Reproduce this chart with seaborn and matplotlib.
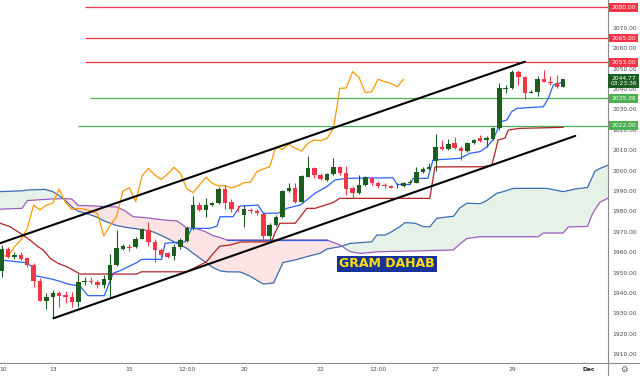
import numpy as np
import pandas as pd
import matplotlib
matplotlib.use("Agg")
import matplotlib.pyplot as plt
import seaborn as sns
from matplotlib.lines import Line2D

# ---- 4h candles (bar 0 = first bar on screen) ----
opens = [1950.6, 1961.6, 1957.8, 1958.6, 1957.3, 1953.6, 1946.0, 1936.2, 1938.2, 1940.1,
         1939.0, 1938.2, 1935.7, 1945.5, 1946.0, 1945.2, 1943.9, 1946.4, 1953.7, 1961.7,
         1962.5, 1962.4, 1966.6, 1970.9, 1965.1, 1961.1, 1959.4, 1958.1, 1962.7, 1965.6,
         1971.7, 1983.1, 1980.7, 1983.1, 1984.0, 1991.0, 1984.5, 1981.9, 1978.1, 1980.5,
         1980.2, 1978.7, 1967.9, 1973.3, 1977.4, 1990.0, 1991.6, 1984.8, 1997.0, 2001.1,
         1997.8, 1995.4, 1998.3, 2001.6, 1998.7, 1991.6, 1989.2, 1992.9, 1996.2, 1994.1,
         1992.9, 1992.5, 1992.3, 1992.5, 1993.8, 1994.1, 1999.5, 2000.8, 2004.9, 2011.7,
         2010.4, 2013.4, 2010.9, 2009.6, 2013.4, 2015.8, 2015.0, 2015.3, 2020.7, 2040.0,
         2040.3, 2048.5, 2045.7, 2038.2, 2038.7, 2044.8, 2043.6, 2043.1, 2041.1]
highs = [1963.5, 1962.4, 1960.2, 1960.0, 1957.8, 1954.6, 1947.2, 1940.0, 1941.5, 1941.0,
         1941.0, 1940.6, 1949.1, 1948.0, 1948.0, 1946.3, 1948.8, 1959.1, 1970.9, 1964.0,
         1963.9, 1967.6, 1971.7, 1975.0, 1966.3, 1962.1, 1960.0, 1964.0, 1966.8, 1972.8,
         1987.5, 1984.8, 1986.4, 1984.8, 1992.1, 1992.9, 1986.0, 1983.1, 1983.1, 1981.7,
         1981.2, 1979.9, 1974.2, 1978.2, 1990.5, 1993.8, 1993.8, 1997.8, 2007.2, 2001.9,
         1998.7, 1999.0, 2006.0, 2002.3, 2002.3, 1992.5, 1997.8, 1997.4, 1997.0, 1994.9,
         1994.1, 1992.9, 1993.8, 1994.6, 1995.4, 2001.9, 2001.6, 2003.6, 2017.9, 2015.0,
         2015.3, 2016.3, 2012.1, 2014.2, 2015.5, 2017.5, 2017.0, 2021.4, 2042.8, 2042.0,
         2049.3, 2049.3, 2046.4, 2039.5, 2046.4, 2049.3, 2046.4, 2046.9, 2044.9]
lows = [1948.0, 1957.2, 1956.7, 1956.2, 1952.9, 1942.7, 1936.0, 1932.2, 1927.6, 1933.0,
        1935.0, 1933.3, 1933.1, 1943.9, 1944.4, 1942.6, 1942.6, 1938.2, 1953.2, 1961.1,
        1960.7, 1961.9, 1966.3, 1963.0, 1955.3, 1957.8, 1957.0, 1956.2, 1961.4, 1965.1,
        1970.9, 1980.3, 1977.4, 1982.6, 1983.6, 1981.0, 1979.9, 1979.5, 1972.5, 1979.2,
        1978.2, 1966.0, 1966.0, 1972.8, 1976.8, 1989.7, 1984.3, 1984.6, 1996.9, 1996.2,
        1995.4, 1995.0, 1998.0, 1997.8, 1988.0, 1986.4, 1988.4, 1992.5, 1992.9, 1991.5,
        1991.3, 1991.3, 1991.3, 1992.0, 1993.4, 1993.8, 1999.0, 2000.3, 1999.9, 2010.3,
        2010.1, 2010.6, 2005.2, 2009.0, 2013.0, 2014.2, 2011.7, 2015.0, 2019.9, 2037.9,
        2040.2, 2042.0, 2035.0, 2037.8, 2036.6, 2043.4, 2042.0, 2040.7, 2041.0]
closes = [1961.6, 1957.8, 1958.5, 1956.7, 1953.7, 1946.0, 1936.2, 1938.2, 1939.9, 1938.7,
          1938.2, 1935.7, 1945.2, 1945.9, 1945.5, 1943.9, 1947.0, 1953.7, 1961.9, 1963.0,
          1962.2, 1966.6, 1971.2, 1965.1, 1961.1, 1958.6, 1957.8, 1962.7, 1966.0, 1971.7,
          1983.1, 1980.7, 1983.1, 1984.0, 1991.0, 1984.3, 1981.0, 1981.5, 1981.0, 1980.2,
          1979.1, 1967.9, 1973.3, 1977.4, 1990.0, 1991.6, 1984.8, 1997.4, 2001.1, 1997.8,
          1995.7, 1998.3, 2001.6, 1998.7, 1991.1, 1989.2, 1992.9, 1996.7, 1993.8, 1992.5,
          1992.6, 1991.6, 1992.6, 1994.1, 1994.4, 1999.5, 2000.8, 2001.9, 2011.7, 2010.4,
          2013.0, 2010.9, 2009.6, 2013.4, 2015.0, 2014.7, 2015.8, 2020.7, 2040.3, 2040.5,
          2048.5, 2045.7, 2038.2, 2038.7, 2044.8, 2043.6, 2042.8, 2041.1, 2044.8]

# ---- ichimoku lines (bar index, price) ----
tenkan_x = [-0.27, 3.65, 4.7, 5.22, 8.04, 9.45, 10.39, 12.27, 13.53, 16.08, 17.45, 18.54,
            21.16, 21.94, 25.08, 25.6, 28.73, 29.78, 32.65, 33.75, 34.22, 36.25, 37.35,
            40.17, 41.0, 43.31, 44.67, 46.76, 47.81, 49.1, 50.94, 52.24, 54.08, 61.33,
            61.96, 64.0, 64.5, 66.8, 67.6, 71.83, 73.4, 74.97, 76.07, 77.0, 77.79, 78.37,
            79.15, 79.94, 80.72, 84.89, 85.67, 86.46, 88.0]
tenkan_y = [1956.2, 1954.9, 1953.2, 1948.5, 1946.7, 1945.4, 1944.4, 1943.4, 1938.7, 1938.7,
            1949.7, 1950.9, 1954.9, 1956.5, 1956.5, 1964.4, 1965.1, 1971.7, 1971.7, 1972.8,
            1977.4, 1977.4, 1982.6, 1983.1, 1979.1, 1979.1, 1981.5, 1983.1, 1985.6, 1988.9,
            1992.1, 1995.4, 1996.2, 1996.5, 1993.2, 1993.2, 1996.2, 1996.2, 2005.2, 2006.0,
            2008.5, 2009.3, 2011.7, 2015.0, 2020.7, 2024.0, 2024.8, 2028.9, 2030.5, 2031.3,
            2035.4, 2042.0, 2043.4]
kijun_x = [-0.27, 1.3, 2.9, 4.4, 5.7, 6.5, 7.6, 8.8, 10.2, 12.3, 21.2, 21.9, 29.0, 32.1,
           33.2, 34.2, 35.8, 37.4, 42.3, 42.8, 43.6, 46.0, 46.8, 47.8, 49.1, 49.9, 51.9,
           53.0, 67.1, 67.9, 75.4, 76.8, 77.3, 77.8, 78.9, 79.4, 81.2, 88.0]
kijun_y = [1974.2, 1972.5, 1969.3, 1966.0, 1962.7, 1961.1, 1957.0, 1954.6, 1952.9, 1949.3,
           1949.3, 1950.4, 1950.4, 1955.3, 1959.6, 1963.0, 1963.5, 1965.0, 1965.1, 1969.3,
           1974.2, 1974.2, 1977.4, 1981.5, 1981.5, 1982.3, 1984.3, 1986.4, 1986.4, 2001.8,
           2001.9, 2002.7, 2008.5, 2015.0, 2016.0, 2019.9, 2020.7, 2021.2]
lag_shift = 25

cloud_x = [-0.3, 3.2, 4.0, 6.8, 8.0, 8.9, 9.9, 11.0, 12.0, 13.3, 14.9, 16.0, 18.0, 19.3,
           20.6, 22.3, 23.8, 25.5, 27.5, 29.0, 30.6, 31.9, 33.0, 34.2, 35.3, 37.4, 38.9,
           41.0, 42.6, 44.1, 46.0, 47.8, 49.9, 51.0, 53.0, 54.6, 56.2, 58.0, 58.8, 60.1,
           61.1, 62.4, 63.2, 64.8, 66.1, 67.1, 68.2, 69.8, 70.8, 71.8, 72.9, 75.0, 76.0,
           77.6, 78.6, 80.2, 84.1, 84.9, 85.4, 88.0, 88.8, 90.1, 91.8, 92.5, 93.0, 93.8, 95.1]
span_a = [1989.7, 1990.1, 1990.5, 1990.8, 1989.7, 1988.0, 1985.6, 1982.2, 1980.1, 1979.0,
          1977.2, 1975.4, 1973.1, 1972.3, 1971.7, 1970.9, 1969.9, 1967.5, 1964.3, 1961.9,
          1958.1, 1955.2, 1952.7, 1950.9, 1950.4, 1950.3, 1948.3, 1944.4, 1944.9, 1955.0,
          1956.2, 1957.8, 1959.5, 1961.6, 1962.7, 1964.3, 1964.7, 1965.1, 1968.4, 1968.4,
          1970.0, 1972.5, 1974.5, 1974.2, 1972.5, 1972.5, 1976.6, 1977.3, 1977.6, 1981.7,
          1984.0, 1983.8, 1985.3, 1988.9, 1989.7, 1991.3, 1991.3, 1991.3, 1991.3, 1989.7,
          1990.2, 1991.1, 1991.7, 1996.4, 1999.8, 2001.1, 2002.7]
span_b = [1981.1, 1981.5, 1985.3, 1985.9, 1986.1, 1986.2, 1986.3, 1986.0, 1982.9, 1982.8,
          1982.6, 1982.4, 1982.2, 1980.3, 1977.4, 1977.0, 1976.4, 1975.8, 1975.3, 1971.9,
          1971.5, 1970.1, 1968.3, 1967.2, 1966.0, 1966.0, 1966.0, 1966.0, 1966.0, 1966.0,
          1966.0, 1966.0, 1966.0, 1966.0, 1963.5, 1960.3, 1959.4, 1959.9, 1960.2, 1960.3,
          1960.4, 1960.4, 1960.5, 1960.6, 1960.7, 1960.8, 1960.9, 1961.0, 1961.1, 1964.0,
          1966.7, 1967.6, 1967.6, 1967.6, 1967.6, 1967.6, 1967.6, 1969.4, 1969.4, 1969.4,
          1972.4, 1972.5, 1972.6, 1978.1, 1981.0, 1984.6, 1986.6]

# ---- drawn objects ----
channel_top_x = [-0.27, 82.0]
channel_top_y = [1964.4, 2053.4]
channel_bot_x = [8.1, 89.9]
channel_bot_y = [1927.6, 2017.0]

level_prices = [2080.00, 2065.00, 2053.00, 2035.36, 2022.00]
level_start = [13.1, 13.1, 13.1, 13.8, 12.0]
level_kind = ['r', 'r', 'r', 'g', 'g']
last_price = 2044.77
countdown = '03:23:36'

tick_pos = [0.15, 8, 20, 29, 38, 50, 59, 68, 80, 92]
tick_text = ['10', '13', '15', '12:00', '20', '22', '12:00', '27', '29', 'Dec']
price_ticks = list(range(1910, 2071, 10))

GREEN = '#1b5e20'
RED = '#f23645'
LVL_GREEN = '#4caf50'

sns.set_theme(style='white')
plt.rcParams['font.family'] = ['DejaVu Sans']

fig = plt.figure(figsize=(6.4, 3.76), dpi=100)
ax = fig.add_axes([0, 13 / 376, 608 / 640, 363 / 376])
x_left, x_right = -0.27, 95.03
ax.set_xlim(x_left, x_right)
ax.set_ylim(1905.69, 2083.63)

df = pd.DataFrame({'o': opens, 'h': highs, 'l': lows, 'c': closes})
df['i'] = np.arange(len(df))
up = df.c >= df.o
cols = np.where(up, GREEN, RED)

# cloud
cloud = pd.DataFrame({'x': cloud_x, 'a': span_a, 'b': span_b})
ax.fill_between(cloud.x, cloud.a, cloud.b, where=cloud.a >= cloud.b, interpolate=True,
                color='#e6f2e7', lw=0, zorder=1)
ax.fill_between(cloud.x, cloud.a, cloud.b, where=cloud.a < cloud.b, interpolate=True,
                color='#fce4e4', lw=0, zorder=1)
sns.lineplot(data=cloud, x='x', y='a', ax=ax, color='#3b6db3', lw=0.9,
             estimator=None, sort=False, zorder=2)
sns.lineplot(data=cloud, x='x', y='b', ax=ax, color='#9c5cc0', lw=0.9,
             estimator=None, sort=False, zorder=2)
flat = cloud[(cloud.x >= 35.3) & (cloud.x <= 51.0)]
sns.lineplot(data=flat, x='x', y='b', ax=ax, color='#3060d8', lw=0.9,
             estimator=None, sort=False, zorder=2)

# levels
for p, s, k in zip(level_prices, level_start, level_kind):
    ax.hlines(p, s, x_right, color=RED if k == 'r' else LVL_GREEN, lw=0.9, zorder=2)

# lagging span, tenkan, kijun
sns.lineplot(x=df.i[:len(df) - lag_shift], y=df.c[lag_shift:].values, ax=ax,
             color='#ff9800', lw=0.9, estimator=None, sort=False, zorder=2)
sns.lineplot(x=tenkan_x, y=tenkan_y, ax=ax, color='#2962ff', lw=0.9,
             estimator=None, sort=False, zorder=2)
sns.lineplot(x=kijun_x, y=kijun_y, ax=ax, color='#b22222', lw=0.9,
             estimator=None, sort=False, zorder=2)

# candles
ax.vlines(df.i, df.l, df.h, colors=cols, lw=0.8, zorder=3)
body = (df.c - df.o).abs()
h = np.maximum(body, 0.4)
bottom = np.minimum(df.o, df.c) - (h - body) / 2
ax.bar(df.i, h, bottom=bottom, width=0.7, color=cols, lw=0, zorder=4)

# channel
sns.lineplot(x=channel_top_x, y=channel_top_y, ax=ax, color='black', lw=1.5,
             estimator=None, sort=False, zorder=5)
sns.lineplot(x=channel_bot_x, y=channel_bot_y, ax=ax, color='black', lw=1.5,
             estimator=None, sort=False, zorder=5)

ax.text(0.6365, 0.273, 'GRAM DAHAB', transform=ax.transAxes, fontsize=9, weight='bold',
        color='#ffe100', ha='center', va='center', zorder=6,
        bbox=dict(boxstyle='square,pad=0.15', fc='#1a3399', ec='none'))

# axes styling
ax.set_xlabel('')
ax.set_ylabel('')
ax.yaxis.tick_right()
ax.set_yticks(price_ticks)
ax.set_yticklabels([f'{v:.2f}' for v in price_ticks])
ax.set_xticks(tick_pos)
ax.set_xticklabels(tick_text)
ax.tick_params(axis='y', length=0, pad=3, labelsize=4.3, labelcolor='#4a4a4a')
ax.tick_params(axis='x', length=0, pad=3, labelsize=4.3, labelcolor='#4a4a4a')
ax.get_xticklabels()[-1].set_fontweight('bold')
ax.get_xticklabels()[-1].set_color('#222222')
for s in ['top', 'left']:
    ax.spines[s].set_visible(False)
for s in ['right', 'bottom']:
    ax.spines[s].set_color('#8a8a8a')
    ax.spines[s].set_linewidth(0.8)
ax.grid(False)

fig.add_artist(Line2D([608 / 640, 1], [13 / 376, 13 / 376], transform=fig.transFigure,
                      color='#8a8a8a', lw=0.8))
fig.add_artist(Line2D([608 / 640, 608 / 640], [0, 13 / 376], transform=fig.transFigure,
                      color='#8a8a8a', lw=0.8))
fig.text(624 / 640, 7 / 376, '\u2699', ha='center', va='center', fontsize=6, color='#555555')

# price labels on the scale
ytr = ax.get_yaxis_transform()
for p, k in zip(level_prices, level_kind):
    ax.text(1.0255, p, f'{p:.2f}', transform=ytr, ha='center', va='center', fontsize=4.3,
            color='white', clip_on=False, zorder=10,
            bbox=dict(boxstyle='square,pad=0.3', fc=RED if k == 'r' else LVL_GREEN, ec='none'))
ax.annotate(f'{last_price:.2f}\n{countdown}', xy=(1.0255, last_price), xycoords=ytr,
            xytext=(0, 2.5), textcoords='offset points', ha='center', va='top',
            fontsize=4.3, color='white', linespacing=1.1, annotation_clip=False, zorder=10,
            bbox=dict(boxstyle='square,pad=0.3', fc=GREEN, ec='none'))

fig.savefig('out.png', dpi=100)
